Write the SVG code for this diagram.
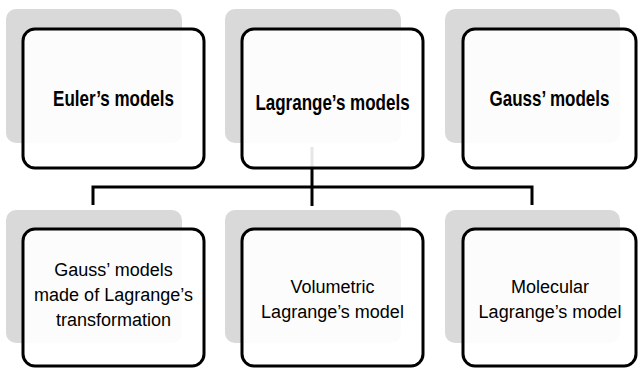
<svg xmlns="http://www.w3.org/2000/svg" width="638" height="369" viewBox="0 0 638 369">
<style>
.sh{fill:#d9d9d9}
.bx{fill:#ffffff;fill-opacity:0.9;stroke:#000;stroke-width:3}
.t{font-family:"Liberation Sans",Arial,sans-serif;font-size:17px;font-weight:bold;text-anchor:middle;fill:#000}
.b{font-family:"Liberation Sans",Arial,sans-serif;font-size:18px;text-anchor:middle;fill:#000}
.c{fill:none;stroke:#000;stroke-width:3}
</style>
<rect width="638" height="369" fill="#fff"/>
<g id="connectors">
<path class="c" d="M312 147V206"/>
<path class="c" d="M93 205V187H532V205"/>
</g>
<g id="euler">
<rect class="sh" x="6" y="9" width="176" height="134" rx="10"/>
<rect class="bx" x="23" y="29" width="181" height="139" rx="12"/>
<text class="t" transform="translate(113.5,106) scale(1,1.25)">Euler’s models</text>
</g>
<g id="lagrange">
<rect class="sh" x="225" y="9" width="176" height="134" rx="10"/>
<rect class="bx" x="242" y="29" width="181" height="139" rx="12"/>
<text class="t" transform="translate(332.5,110) scale(1,1.25)">Lagrange’s models</text>
</g>
<g id="gauss">
<rect class="sh" x="445" y="9" width="175" height="134" rx="10"/>
<rect class="bx" x="463" y="29" width="173" height="139" rx="12"/>
<text class="t" transform="translate(549.5,106) scale(1,1.25)">Gauss’ models</text>
</g>
<g id="gauss-lagrange">
<rect class="sh" x="6" y="210" width="176" height="133" rx="10"/>
<rect class="bx" x="23" y="229" width="181" height="137" rx="12"/>
<text class="b" x="113.5" y="276">Gauss’ models</text>
<text class="b" x="113.5" y="301">made of Lagrange’s</text>
<text class="b" x="113.5" y="326">transformation</text>
</g>
<g id="volumetric">
<rect class="sh" x="225" y="210" width="176" height="133" rx="10"/>
<rect class="bx" x="242" y="229" width="181" height="137" rx="12"/>
<text class="b" x="332.5" y="293">Volumetric</text>
<text class="b" x="332.5" y="318">Lagrange’s model</text>
</g>
<g id="molecular">
<rect class="sh" x="445" y="210" width="175" height="133" rx="10"/>
<rect class="bx" x="463" y="229" width="173" height="137" rx="12"/>
<text class="b" x="550" y="293">Molecular</text>
<text class="b" x="550" y="318">Lagrange’s model</text>
</g>
</svg>
